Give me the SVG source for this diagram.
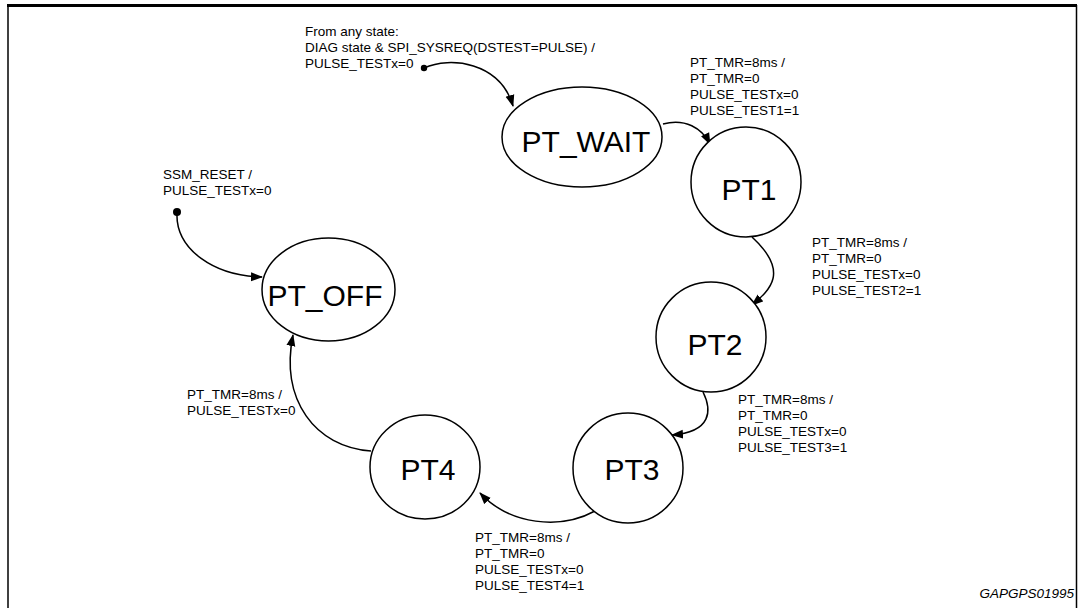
<svg xmlns="http://www.w3.org/2000/svg" width="1082" height="608" viewBox="0 0 1082 608">
<style>
.node{fill:#fff;stroke:#000;stroke-width:1.5}
.big{font-family:"Liberation Sans",Arial,sans-serif;font-size:30px;fill:#000;text-anchor:middle}
.lbl{font-family:"Liberation Sans",Arial,sans-serif;font-size:13.5px;fill:#000}
.edge{fill:none;stroke:#000;stroke-width:1.5}
</style>
<defs>
<marker id="arr" markerUnits="userSpaceOnUse" markerWidth="12" markerHeight="10" refX="11" refY="5" orient="auto">
<path d="M0,0.5 L12,5 L0,9.5 Z" fill="#000"/>
</marker>
</defs>
<rect width="1082" height="608" fill="#fff"/>
<g id="frame">
<line x1="7" y1="5.5" x2="1077" y2="5.5" stroke="#000" stroke-width="3"/>
<line x1="8" y1="5" x2="8" y2="608" stroke="#000" stroke-width="1.5"/>
<line x1="1076.5" y1="5" x2="1076.5" y2="608" stroke="#000" stroke-width="1.5"/>
</g>
<g id="connectors">
<path class="edge" d="M424 68 C450 56,500 62,513 106" marker-end="url(#arr)"/>
<circle cx="424" cy="68" r="3.2" fill="#000"/>
<path class="edge" d="M663 124 C685 118,702 128,710 144" marker-end="url(#arr)"/>
<path class="edge" d="M752 237 C790 272,770 290,752 305" marker-end="url(#arr)"/>
<path class="edge" d="M703 392 C712 410,712 432,672 435" marker-end="url(#arr)"/>
<path class="edge" d="M595 511 C560 530,510 525,480 493" marker-end="url(#arr)"/>
<path class="edge" d="M371 451 C315 447,280 400,293 335" marker-end="url(#arr)"/>
<path class="edge" d="M177 212 C175 250,215 276,262 277" marker-end="url(#arr)"/>
<circle cx="177" cy="212" r="4" fill="#000"/>
</g>
<g id="PT_WAIT"><ellipse class="node" cx="582" cy="137" rx="80" ry="50"/><text class="big" x="586" y="152">PT_WAIT</text></g>
<g id="PT1"><circle class="node" cx="746" cy="182" r="55"/><text class="big" x="749" y="200">PT1</text></g>
<g id="PT2"><circle class="node" cx="711" cy="337" r="55"/><text class="big" x="715" y="355">PT2</text></g>
<g id="PT3"><circle class="node" cx="628" cy="468" r="55"/><text class="big" x="632" y="480">PT3</text></g>
<g id="PT4"><ellipse class="node" cx="425" cy="467" rx="55" ry="52"/><text class="big" x="428" y="480">PT4</text></g>
<g id="PT_OFF"><ellipse class="node" cx="328.5" cy="289.5" rx="66.5" ry="51.5"/><text class="big" x="325" y="306">PT_OFF</text></g>
<g id="labels">
<text class="lbl" x="305" y="36">From any state:</text>
<text class="lbl" x="305" y="52">DIAG state &amp; SPI_SYSREQ(DSTEST=PULSE) /</text>
<text class="lbl" x="305" y="68">PULSE_TESTx=0</text>
<text class="lbl" x="690" y="67">PT_TMR=8ms /</text>
<text class="lbl" x="690" y="83">PT_TMR=0</text>
<text class="lbl" x="690" y="99">PULSE_TESTx=0</text>
<text class="lbl" x="690" y="115">PULSE_TEST1=1</text>
<text class="lbl" x="812" y="247">PT_TMR=8ms /</text>
<text class="lbl" x="812" y="263">PT_TMR=0</text>
<text class="lbl" x="812" y="279">PULSE_TESTx=0</text>
<text class="lbl" x="812" y="295">PULSE_TEST2=1</text>
<text class="lbl" x="738" y="404">PT_TMR=8ms /</text>
<text class="lbl" x="738" y="420">PT_TMR=0</text>
<text class="lbl" x="738" y="436">PULSE_TESTx=0</text>
<text class="lbl" x="738" y="452">PULSE_TEST3=1</text>
<text class="lbl" x="475" y="542">PT_TMR=8ms /</text>
<text class="lbl" x="475" y="558">PT_TMR=0</text>
<text class="lbl" x="475" y="574">PULSE_TESTx=0</text>
<text class="lbl" x="475" y="590">PULSE_TEST4=1</text>
<text class="lbl" x="187" y="399">PT_TMR=8ms /</text>
<text class="lbl" x="187" y="415">PULSE_TESTx=0</text>
<text class="lbl" x="163" y="179">SSM_RESET /</text>
<text class="lbl" x="163" y="195">PULSE_TESTx=0</text>
<text class="lbl" x="1074" y="598" text-anchor="end" font-style="italic">GAPGPS01995</text>
</g>
</svg>
